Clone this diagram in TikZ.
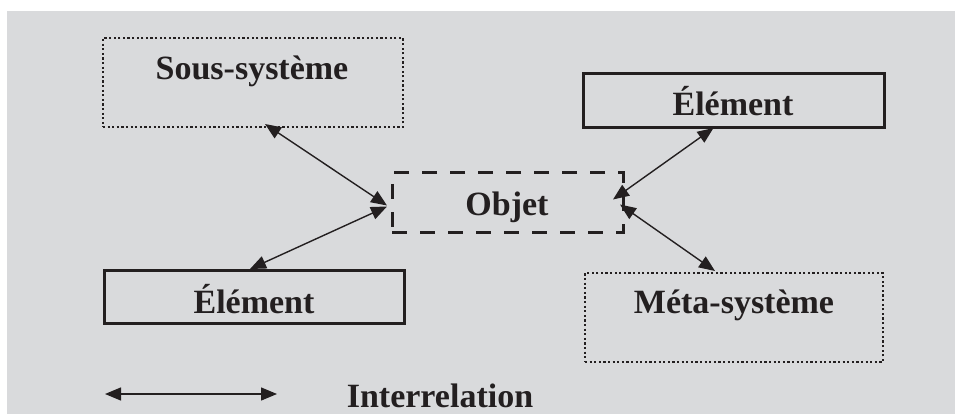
\documentclass[tikz,border=0pt]{standalone}
\usepackage{fontspec}
\setmainfont{Liberation Serif}
\usetikzlibrary{arrows.meta,calc}
\definecolor{bg}{RGB}{217,218,220}
\definecolor{ink}{RGB}{35,31,32}
\tikzset{
  box/.style={draw=ink, inner sep=0pt, outer sep=0pt},
  solidbox/.style={box, line width=3pt},
  dotbox/.style={box, line width=2.2pt, dash pattern=on 2.2pt off 2.4pt},
  dashbox/.style={box, line width=3pt, dash pattern=on 15pt off 13pt},
  lbl/.style={anchor=base, text=ink, inner sep=0pt, font=\bfseries\fontsize{34}{40}\selectfont},
  rel/.style={draw=ink, line width=1.4pt, {Triangle[length=16pt,width=13pt]}-{Triangle[length=16pt,width=13pt]}}
}
\begin{document}
\begin{tikzpicture}[x=1pt,y=-1pt]
\useasboundingbox (0,0) rectangle (955,414);
\fill[bg] (7,11) rectangle (955,414);
% boxes
\node[dotbox, minimum width=300pt, minimum height=89pt] (ss) at (253,82.5) {};
\node[dashbox, minimum width=231pt, minimum height=59pt] (obj) at (507.5,202.5) {};
\node[solidbox, minimum width=301pt, minimum height=54pt] (er) at (733.5,101) {};
\node[solidbox, minimum width=300pt, minimum height=53pt] (el) at (254,296.5) {};
\node[dotbox, minimum width=298pt, minimum height=89pt] (ms) at (734,317.5) {};
% labels
\node[lbl] (tss) at (252,80) {Sous-système};
\node[lbl] (tobj) at (507,215) {Objet};
\node[lbl] (ter) at (733,116) {Élément};
\node[lbl] (tel) at (254,313) {Élément};
\node[lbl] (tms) at (734,313) {Méta-système};
\node[lbl] (tint) at (440,407) {Interrelation};
% connectors
\draw[rel] ($(ss.south)+(12,-3)$) -- ($(obj.west)+(-5,3)$);
\draw[rel] ($(el.north)+(-4,-1)$) -- ($(obj.west)+(-5,4)$);
\draw[rel] ($(er.south)+(-20,0)$) -- ($(obj.east)+(-10,-3)$);
\draw[rel] ($(ms.north)+(-19,-2)$) -- ($(obj.east)+(-3,2)$);
% legend
\coordinate (l1) at (105,394);
\coordinate (l2) at (277,394);
\draw[rel] (l1) -- (l2);
\end{tikzpicture}
\end{document}
